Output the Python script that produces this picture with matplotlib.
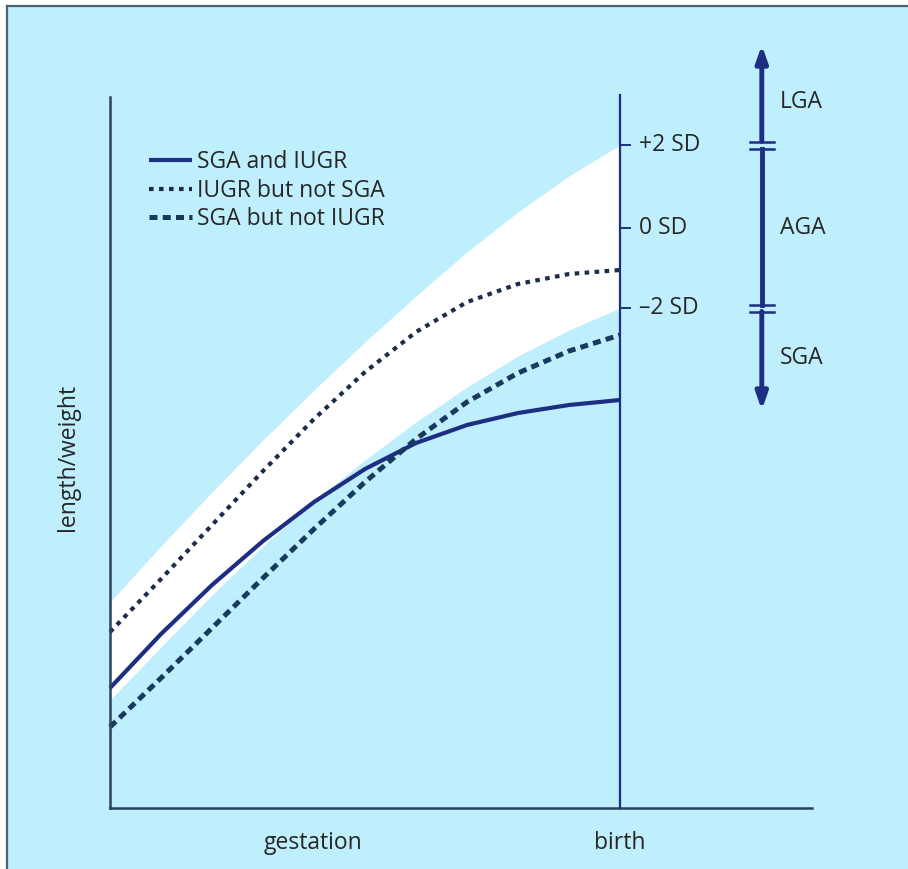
import matplotlib
matplotlib.use("Agg")
import matplotlib.pyplot as plt

plt.rcParams['font.family'] = ['Open Sans', 'DejaVu Sans']

# gestation as a fraction of term (birth = 1)
gestation = [0.0, 0.1, 0.2, 0.3, 0.4, 0.5, 0.6, 0.7, 0.8, 0.9, 1.0]

# reference band (+2 SD / -2 SD)
upper_sd = [2.06, 2.62, 3.16, 3.68, 4.18, 4.66, 5.12, 5.56, 5.96, 6.32, 6.63]
lower_sd = [1.08, 1.61, 2.13, 2.62, 3.07, 3.48, 3.86, 4.21, 4.52, 4.78, 5.00]

# growth curves
sga_iugr = [1.20, 1.74, 2.23, 2.67, 3.06, 3.39, 3.65, 3.83, 3.95, 4.03, 4.08]
iugr_not_sga = [1.76, 2.29, 2.83, 3.37, 3.89, 4.36, 4.76, 5.06, 5.24, 5.34, 5.38]
sga_not_iugr = [0.81, 1.30, 1.80, 2.30, 2.79, 3.26, 3.69, 4.06, 4.35, 4.57, 4.73]

sd_labels = ['+2 SD', '0 SD', '\u20132 SD']
sd_values = [6.63, 5.80, 5.00]

class_labels = ['LGA', 'AGA', 'SGA']
class_y = [7.06, 5.80, 4.50]

bg = '#bfeefc'
navy = '#1d2f82'
dark = '#1d2c48'
axis_col = '#2b4458'
text_col = '#262626'
fs = 16.5

fig = plt.figure(figsize=(9.08, 8.69), dpi=100, facecolor='white')
ax = fig.add_axes([7 / 908, 0, 901 / 908, 863 / 869])
ax.set_facecolor(bg)
ax.set_xlim(-0.202, 1.5647)
ax.set_ylim(-0.61, 8.02)
ax.set_xticks([])
ax.set_yticks([])
for side in ['right', 'bottom']:
    ax.spines[side].set_visible(False)
for side in ['left', 'top']:
    ax.spines[side].set_color('#4c6273')
    ax.spines[side].set_linewidth(1.6)

# white normal range
ax.fill_between(gestation, lower_sd, upper_sd, color='white', lw=0, zorder=1)

# curves
ax.plot(gestation, sga_iugr, color=navy, lw=3.0, solid_capstyle='butt',
        solid_joinstyle='round', label='SGA and IUGR', zorder=3)
ax.plot(gestation, iugr_not_sga, color=dark, lw=3.0, linestyle=(0, (1.1, 1.3)),
        label='IUGR but not SGA', zorder=3)
ax.plot(gestation, sga_not_iugr, color='#183a5e', lw=3.6, linestyle=(0, (1.6, 1.05)),
        label='SGA but not IUGR', zorder=3)

# axes lines
ax.plot([0, 0], [0, 7.11], color=axis_col, lw=1.8, zorder=4)
ax.plot([0, 1.376], [0, 0], color=axis_col, lw=1.8, zorder=4)
ax.plot([1, 1], [0, 7.13], color=navy, lw=1.6, zorder=4)

# SD ticks on birth line
for lab, v in zip(sd_labels, sd_values):
    ax.plot([1, 1.02], [v, v], color=navy, lw=1.4, zorder=4)
    ax.text(1.038, v, lab, fontsize=fs, color=text_col, va='center', ha='left')

# classification arrow with breaks at +/-2 SD
ax_x = 1.278
gap = 0.035
arrow_top = 7.63
arrow_bottom = 3.98
ax.annotate('', xy=(ax_x, arrow_top), xytext=(ax_x, sd_values[0] + gap),
            arrowprops=dict(arrowstyle='-|>,head_length=1.0,head_width=0.35',
                            lw=3.5, color=navy, shrinkA=0, shrinkB=0))
ax.plot([ax_x, ax_x], [sd_values[2] + gap, sd_values[0] - gap], color=navy, lw=3.5)
ax.annotate('', xy=(ax_x, arrow_bottom), xytext=(ax_x, sd_values[2] - gap),
            arrowprops=dict(arrowstyle='-|>,head_length=1.0,head_width=0.35',
                            lw=3.5, color=navy, shrinkA=0, shrinkB=0))
for v in [sd_values[0], sd_values[2]]:
    for d in [-gap, gap]:
        ax.plot([ax_x - 0.023, ax_x + 0.023], [v + d, v + d], color=navy, lw=1.8)

for lab, y in zip(class_labels, class_y):
    ax.text(1.314, y, lab, fontsize=fs, color=text_col, va='center', ha='left')

# axis labels
ax.text(0.398, -0.35, 'gestation', fontsize=fs, color=text_col, ha='center', va='center')
ax.text(1.0, -0.35, 'birth', fontsize=fs, color=text_col, ha='center', va='center')
ax.text(-0.082, 3.51, 'length/weight', fontsize=fs, color=text_col, rotation=90,
        ha='center', va='center')

leg = ax.legend(loc='upper left', bbox_to_anchor=(0.0765, 6.58), bbox_transform=ax.transData,
                frameon=False, fontsize=fs, handlelength=1.88, handletextpad=0.22,
                labelspacing=0.2, borderpad=0, borderaxespad=0)
for t in leg.get_texts():
    t.set_color(text_col)

fig.savefig('out.png', dpi=100, facecolor='white')
